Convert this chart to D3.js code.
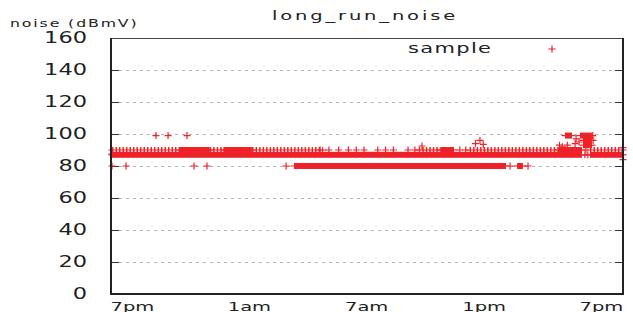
<!DOCTYPE html>
<html>
<head>
<meta charset="utf-8">
<script src="https://cdn.jsdelivr.net/npm/d3@7"></script>
<style>
  body { margin: 0; background: #fff; }
  text { font-family: "DejaVu Sans", sans-serif; fill: #222; }
</style>
</head>
<body>
<script>
// time axis in hours after 7pm
var hourTicks = [0, 6, 12, 18, 24];
var hourLabels = ["7pm", "1am", "7am", "1pm", "7pm"];
var noiseTicks = [0, 20, 40, 60, 80, 100, 120, 140, 160];

// stretches where samples are packed so close they merge: [startHour, endHour, dBmV]
var solidRuns = [
  [0, 24.05, 87], [24.46, 26.15, 87],
  [3.48, 5.0, 90], [5.7, 7.17, 90], [16.8, 17.5, 90], [22.8, 24.05, 90],
  [9.31, 20.16, 80], [20.73, 21.03, 80],
  [23.18, 23.54, 99], [23.95, 24.56, 99], [24.1, 24.56, 96], [24.1, 24.56, 93]
];

// stretches with frequent but not merged samples: [startHour, endHour, dBmV]
var combRuns = [
  [0, 3.48, 90], [5.0, 5.7, 90], [7.17, 10.8, 90],
  [15.7, 16.8, 90], [18.3, 22.8, 90], [24.46, 26.15, 90]
];

// single samples [hour, dBmV]
var samples = [
  [0, 80], [0.72, 80], [4.2, 80], [4.86, 80], [8.91, 80], [20.37, 80], [21.29, 80],
  [2.25, 99], [2.87, 99], [3.84, 99],
  [10.65, 90], [11.1, 90], [11.6, 90], [12.1, 90], [12.5, 90], [12.9, 90],
  [13.6, 90], [14.0, 90], [14.4, 90], [15.15, 90], [15.5, 90], [17.8, 90], [18.1, 90],
  [15.86, 92.5], [18.83, 96], [18.6, 94], [19.0, 93.5],
  [22.9, 93], [23.3, 93], [23.05, 92], [23.7, 94], [23.75, 97], [23.9, 95],
  [24.6, 99], [24.62, 96], [24.2, 87], [24.35, 87], [24.25, 90],
  [26.15, 91.5], [26.15, 84], [0, 87.5]
];

var red = "#ee2229";
var width = 633, height = 312;
var plotLeft = 111, plotRight = 623, plotTop = 38, plotBottom = 294;
var stretch = 1.5;   // the reference font is drawn wide

var svg = d3.select("body").append("svg")
  .attr("width", width)
  .attr("height", height);

var x = d3.scaleLinear().domain([-0.05, 26.15]).range([plotLeft, plotRight]);
var y = d3.scaleLinear().domain([0, 160]).range([plotBottom, plotTop]);

var innerTicks = noiseTicks.filter(function(d){ return d > 0 && d < 160; });

// grid
svg.append("g").selectAll("line")
  .data(innerTicks)
  .enter().append("line")
  .attr("x1", plotLeft + 8).attr("x2", plotRight - 8)
  .attr("y1", function(d){ return y(d) + 0.5; }).attr("y2", function(d){ return y(d) + 0.5; })
  .attr("stroke", "#b4b4b4").attr("stroke-width", 1)
  .attr("stroke-dasharray", "3,4");

// inner tick marks both sides
var tickG = svg.append("g");
innerTicks.forEach(function(d){
  tickG.append("line").attr("x1", plotLeft).attr("x2", plotLeft + 8)
    .attr("y1", y(d) + 0.5).attr("y2", y(d) + 0.5).attr("stroke", "#333");
  tickG.append("line").attr("x1", plotRight - 8).attr("x2", plotRight)
    .attr("y1", y(d) + 0.5).attr("y2", y(d) + 0.5).attr("stroke", "#333");
});

// samples
var marks = svg.append("g");

marks.selectAll(".solid")
  .data(solidRuns).enter().append("rect")
  .attr("class", "solid")
  .attr("x", function(d){ return x(d[0]); })
  .attr("width", function(d){ return x(d[1]) - x(d[0]); })
  .attr("y", function(d){ return y(d[2]) - 3; })
  .attr("height", 6)
  .attr("fill", red);

marks.selectAll(".arms")
  .data(solidRuns.concat(combRuns)).enter().append("line")
  .attr("class", "arms")
  .attr("x1", function(d){ return x(d[0]) - 3.5; })
  .attr("x2", function(d){ return x(d[1]) + 3.5; })
  .attr("y1", function(d){ return y(d[2]); })
  .attr("y2", function(d){ return y(d[2]); })
  .attr("stroke", red).attr("stroke-width", 1.2);

marks.selectAll(".comb")
  .data(combRuns).enter().append("line")
  .attr("class", "comb")
  .attr("x1", function(d){ return x(d[0]); })
  .attr("x2", function(d){ return x(d[1]); })
  .attr("y1", function(d){ return y(d[2]); })
  .attr("y2", function(d){ return y(d[2]); })
  .attr("stroke", red).attr("stroke-width", 6)
  .attr("stroke-dasharray", "1.5,2");

function plus(cx, cy){
  return "M" + (cx - 3.5) + "," + cy + "h7M" + cx + "," + (cy - 3.5) + "v7";
}

marks.selectAll(".pt")
  .data(samples).enter().append("path")
  .attr("class", "pt")
  .attr("d", function(d){ return plus(x(d[0]), y(d[1])); })
  .attr("stroke", red).attr("stroke-width", 1.2).attr("fill", "none");

// frame
svg.append("line").attr("x1", plotLeft).attr("x2", plotRight).attr("y1", plotTop + 0.5).attr("y2", plotTop + 0.5)
  .attr("stroke", "#444").attr("stroke-width", 1);
svg.append("line").attr("x1", plotRight).attr("x2", plotRight).attr("y1", plotTop).attr("y2", plotBottom)
  .attr("stroke", "#222").attr("stroke-width", 2);
svg.append("line").attr("x1", plotLeft).attr("x2", plotLeft).attr("y1", plotTop).attr("y2", plotBottom + 1)
  .attr("stroke", "#222").attr("stroke-width", 2);
svg.append("line").attr("x1", plotLeft - 1).attr("x2", plotRight + 1).attr("y1", plotBottom).attr("y2", plotBottom)
  .attr("stroke", "#222").attr("stroke-width", 2);

// axes
var yAxis = svg.append("g")
  .attr("transform", "translate(" + plotLeft + ",0)")
  .call(d3.axisLeft(y).tickValues(noiseTicks).tickSize(0).tickPadding(16));
yAxis.select(".domain").remove();
yAxis.selectAll("text")
  .attr("font-family", "DejaVu Sans").attr("font-size", 15)
  .attr("fill", "#222")
  .attr("transform", "scale(" + stretch + ",1)");

var xAxis = svg.append("g")
  .attr("transform", "translate(0," + plotBottom + ")")
  .call(d3.axisBottom(x).tickValues(hourTicks)
    .tickFormat(function(d, i){ return hourLabels[i]; })
    .tickSize(0).tickPadding(8));
xAxis.select(".domain").remove();
xAxis.selectAll("text")
  .attr("font-family", "DejaVu Sans").attr("font-size", 13)
  .attr("fill", "#222")
  .attr("text-anchor", "start").attr("x", -1.3)
  .attr("transform", "scale(" + stretch + ",1)");

function label(str, px, py, size, spacing){
  svg.append("text")
    .attr("transform", "translate(" + px + "," + py + ") scale(" + stretch + ",1)")
    .attr("font-size", size)
    .attr("letter-spacing", spacing)
    .text(str);
}

label("long_run_noise", 272, 20, 13, 1.9);
label("noise (dBmV)", 10, 27, 10.5, 1.25);
label("sample", 408, 53, 14, 0.9);

svg.append("path")
  .attr("d", plus(552, 49))
  .attr("stroke", red).attr("stroke-width", 1.2).attr("fill", "none");
</script>
</body>
</html>
